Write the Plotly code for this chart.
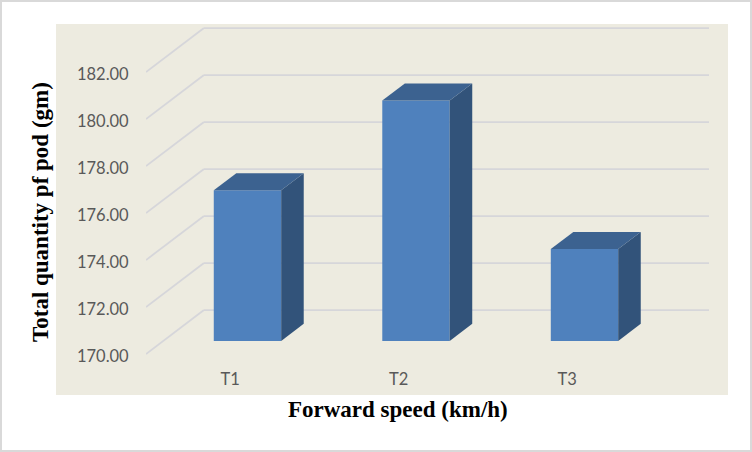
import plotly.graph_objects as go

categories = ["T1", "T2", "T3"]
values = [176.41, 180.23, 173.91]
y_ticks = [170, 172, 174, 176, 178, 180, 182]

floor_value = 170

# plot area in pixels of the 752x452 picture
W, H = 752, 452
L, R, T, B = 146, 709, 24, 356

# how far the back wall sits from the front plane, in axis units
depth_x = 0.344
depth_y = 1.872
bar_front = 0.297
bar_back = 0.686
bar_width = 0.4

# tick labels sit a little below their gridlines in the reference
lift = 0.085

x_range = [-0.5, 2.841]
y_range = [170, 184.128]


def px_x(p):
    return (p - L) / (R - L)


def px_y(p):
    return (B - p) / (B - T)


def place(x, v, d):
    return x + d * depth_x, v + d * depth_y + lift


shapes = [
    # outer border
    dict(type="rect", xref="paper", yref="paper", layer="below",
         x0=px_x(1), x1=px_x(W - 1), y0=px_y(H - 1), y1=px_y(1),
         line=dict(color="#D9D9D9", width=2), fillcolor="#FFFFFF"),
    # beige chart background
    dict(type="rect", xref="paper", yref="paper", layer="below",
         x0=px_x(56), x1=px_x(728), y0=px_y(395), y1=px_y(24),
         line=dict(width=0), fillcolor="#EDEBE0"),
]

# gridlines: diagonal on the side wall, then flat along the back wall
for v in y_ticks:
    x0, y0 = place(x_range[0], v, 0)
    x1, y1 = place(x_range[0], v, 1)
    grid = dict(color="#D6D6DA", width=1.75)
    shapes.append(dict(type="line", layer="below", x0=x0, y0=y0, x1=x1, y1=y1, line=grid))
    shapes.append(dict(type="line", layer="below", x0=x1, y0=y1, x1=x_range[1], y1=y1, line=grid))

fig = go.Figure()

for i, v in enumerate(values):
    left = i - bar_width / 2
    right = i + bar_width / 2
    f = place(0, floor_value, bar_front)
    b = place(0, floor_value, bar_back)
    top_f = place(0, v, bar_front)[1]
    top_b = place(0, v, bar_back)[1]

    # right side face
    fig.add_trace(go.Scatter(
        x=[right + f[0], right + b[0], right + b[0], right + f[0]],
        y=[f[1], b[1], top_b, top_f],
        fill="toself", fillcolor="#32537A", mode="none",
        hoverinfo="skip", showlegend=False))
    # top face
    fig.add_trace(go.Scatter(
        x=[left + f[0], left + b[0], right + b[0], right + f[0]],
        y=[top_f, top_b, top_b, top_f],
        fill="toself", fillcolor="#3C6290", mode="none",
        hoverinfo="skip", showlegend=False))
    # front face
    fig.add_trace(go.Bar(x=[i + f[0]], y=[v - floor_value], base=f[1], width=bar_width,
                         marker=dict(color="#4F81BD", line=dict(width=0)),
                         name=categories[i], showlegend=False))

tick_font = dict(family="Lato", size=16.5, color="#595959")
title_font = dict(family="Liberation Serif", size=23, color="#000000")

fig.update_layout(
    width=W, height=H,
    margin=dict(l=L, r=W - R, t=T, b=H - B),
    paper_bgcolor="#FFFFFF", plot_bgcolor="rgba(0,0,0,0)",
    template=None,
    xaxis=dict(range=x_range, tickmode="array", tickvals=[0, 1, 2], ticktext=categories,
               showgrid=False, zeroline=False, showline=False,
               ticks="outside", ticklen=8, tickcolor="rgba(0,0,0,0)", tickfont=tick_font),
    yaxis=dict(range=y_range, tickmode="array", tickvals=y_ticks, tickformat=".2f",
               showgrid=False, zeroline=False, showline=False,
               ticks="outside", ticklen=13, tickcolor="rgba(0,0,0,0)", tickfont=tick_font),
    shapes=shapes,
    annotations=[
        dict(text="<b>Forward speed (km/h)</b>", xref="paper", yref="paper",
             x=px_x(398), y=px_y(409), xanchor="center", yanchor="middle",
             showarrow=False, font=title_font),
        dict(text="<b>Total quantity pf pod (gm)</b>", xref="paper", yref="paper",
             x=px_x(41), y=px_y(212), xanchor="center", yanchor="middle",
             showarrow=False, textangle=-90, font=title_font),
    ],
)

# the page's default body margin would push the chart off by 8px
fig.write_html("out.html", config={"displayModeBar": False},
               post_script="document.body.style.margin='0';")
